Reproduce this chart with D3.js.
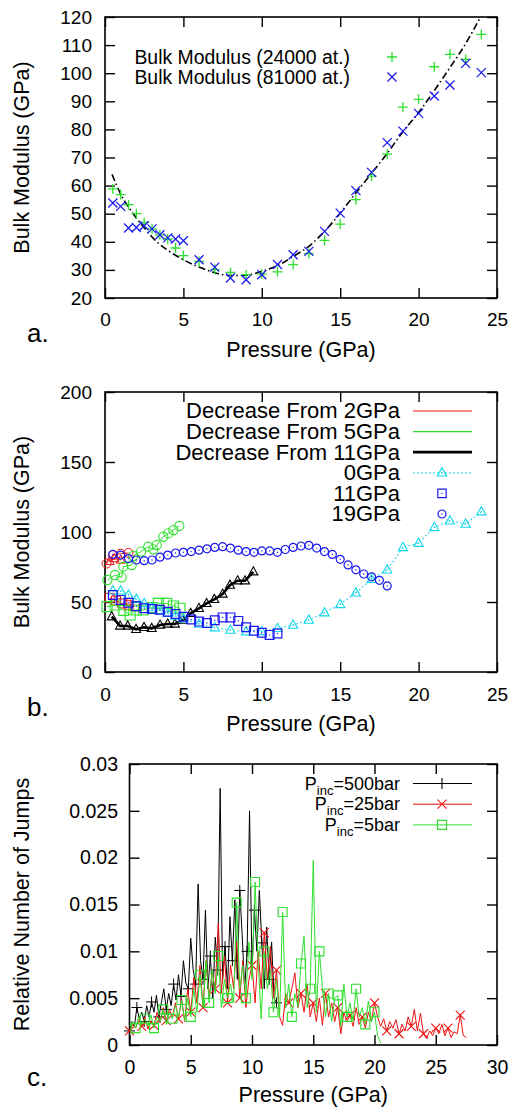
<!DOCTYPE html>
<html>
<head>
<meta charset="utf-8">
<script src="https://cdn.jsdelivr.net/npm/d3@7"></script>
<style>
body { margin: 0; background: #fff; }
svg { display: block; }
</style>
</head>
<body>
<svg id="chart" width="513" height="1108"></svg>
<script>
// ---------- panel a: bulk modulus vs pressure ----------
const pressA = [0.5,1,1.5,2,2.5,3,3.5,4,4.5,5,6,7,8,9,10,11,12,13,14,15,16,17,18,19,20,21,22,23,24];
const bulk24000 = [58.8,56.8,53.2,50,46.9,44.6,42.5,41,37.8,35.1,33,30.1,29.1,28.3,28.5,29.3,31.9,35.8,40.5,46.3,55,63.4,71.2,87.9,90.7,102.3,106.7,104.9,113.8];
const bulk81000 = [53.8,52.6,44.9,45.1,45.7,44.6,42.5,41.4,41,40.4,33.6,31,27.1,26.5,28.3,31.9,35.4,36.6,43.7,50.2,58.2,64.7,75.3,79.4,85.7,91.9,95.8,103.5,100.2];
const fitP = [0.45,0.75,1,1.8,2.5,3.3,4,5,6,7,8,9,10,11,12,13,14,15,16,17,18,19,20,21,22,23,23.9];
const fitB = [64,60,57,50,45,40,37,33.6,31,29,28,28.1,29.5,31.5,34.8,38.4,43.7,50.2,57.4,64.4,71.5,79.2,86,93.8,102,110.5,119.5];

// ---------- panel b: compression / decompression runs ----------
const press0 = [0.5,1,1.5,2,2.5,3,3.5,4,4.5,5,6,7,8,9,10,11,12,13,14,15,16,17,18,19,20,21,22,23,24];
const bulk0 = [58,58,55,52,49,46,44,42,40,38,34.3,31.7,30,28.8,29,31.2,33.6,37.1,42.4,48.3,56.6,66.2,73,89,92,103.3,108,105.7,114.5];
const press11 = [0.5,1,1.5,2,2.5,3,3.5,4,4.5,5,5.5,6,6.5,7,7.5,8,8.5,9,9.5,10,10.5,11];
const bulk11 = [55,51.5,49.5,47,45.5,45,44.5,43,41.5,39.5,37.5,36,35,37,39,39,36.5,32,29.5,28,26.5,27.5];
const press19 = [0.5,1,1.5,2,2.5,3,3.5,4,4.5,5,5.5,6,6.5,7,7.5,8,8.5,9,9.5,10,10.5,11,11.5,12,12.5,13,13.5,14,14.5,15,15.5,16,16.5,17,17.5,18];
const bulk19 = [84,83.5,81,80,79.5,80,82,83.5,85,85.5,86,87,88,89,89.5,88.5,87,86,85.5,86.5,86.5,85.5,87.5,89,90,90.5,88.5,86,84,80.5,76.5,73,70,68,65.5,61.5];
const dec2Circ = [[0.1,77.5],[0.5,83.5],[1.0,84.5],[1.5,85]];
const dec2Tri = [[0.3,79],[0.6,81],[1.0,80]];
const dec2Sq = [[0.3,53],[0.7,51],[1.1,49],[1.5,48],[1.9,47]];
const dec5Circ = [[0.15,65.7],[0.64,69.3],[1.06,67.6],[1.17,75.2],[1.7,76.4],[1.8,82.9],[2.3,86],[2.76,89.5],[3.08,87.6],[3.3,90.7],[3.72,96.6],[4.04,99],[4.36,101.4],[4.74,104.3]];
const dec5Sq = [[0.13,46.7],[0.64,47.9],[1.2,44],[1.6,40.7],[2.0,44.3],[2.44,44.3],[3.0,46],[3.4,49],[3.93,49],[4.36,47.1],[4.78,45.5]];
const dec11Tri = [[0.43,39.5],[0.96,32.9],[1.45,32.9],[1.98,30.5],[2.49,31.9],[2.98,31.2],[3.51,33.6],[4.0,34.3],[4.46,34.3],[4.95,37.1],[5.46,41.9],[5.99,45.5],[6.48,49],[6.97,51.9],[7.5,55.7],[7.97,62.1],[8.46,65.2],[8.93,65.2],[9.46,71.6]];

// ---------- panel c: relative number of jumps ----------
const jumps500 = [[0,0.0015],[0.2,0.0025],[0.4,0.0020],[0.6,0.0040],[0.8,0.0028],[1.0,0.0035],[1.2,0.0025],[1.4,0.0042],[1.6,0.0030],[1.8,0.0046],
  [2.0,0.0035],[2.2,0.0053],[2.4,0.0030],[2.6,0.0045],[2.8,0.0060],[3.0,0.0038],[3.2,0.0055],[3.4,0.0042],[3.6,0.0065],[3.8,0.0048],
  [4.0,0.0075],[4.2,0.0052],[4.4,0.0090],[4.6,0.0066],[4.8,0.0060],[5.0,0.0114],[5.2,0.0080],[5.4,0.0065],[5.6,0.0172],[5.8,0.0090],
  [6.0,0.0070],[6.2,0.0144],[6.4,0.0060],[6.6,0.0095],[6.8,0.0050],[7.0,0.0115],[7.2,0.0080],[7.4,0.0274],[7.6,0.0070],[7.8,0.0105],
  [8.0,0.0060],[8.2,0.0137],[8.4,0.0090],[8.6,0.0155],[8.8,0.0070],[9.0,0.0165],[9.2,0.0117],[9.4,0.0060],[9.6,0.0100],[9.8,0.0250],
  [10.0,0.0080],[10.2,0.0144],[10.4,0.0100],[10.6,0.0165],[10.8,0.0109],[11.0,0.0060],[11.2,0.0126],[11.4,0.0070],[11.6,0.0110],[11.8,0.0050],[12.0,0.0045]];
const jumps25 = [[0,0.0015],[0.25,0.0022],[0.5,0.0018],[0.75,0.0028],[1,0.0020],[1.25,0.0030],[1.5,0.0017],[1.75,0.0026],[2,0.0021],[2.25,0.0035],
  [2.5,0.0024],[2.75,0.0040],[3,0.0026],[3.25,0.0038],[3.5,0.0030],[3.75,0.0045],[4,0.0028],[4.25,0.0050],[4.5,0.0025],[4.75,0.0060],
  [5,0.0035],[5.25,0.0072],[5.5,0.0045],[5.75,0.0085],[6,0.0040],[6.25,0.0090],[6.5,0.0050],[6.75,0.0078],[7,0.0060],[7.25,0.0130],
  [7.5,0.0055],[7.75,0.0095],[8,0.0045],[8.25,0.0085],[8.5,0.0060],[8.75,0.0110],[9,0.0050],[9.25,0.0090],[9.5,0.0040],[9.75,0.0070],
  [10,0.0085],[10.25,0.0045],[10.5,0.0100],[10.75,0.0060],[11,0.0120],[11.25,0.0070],[11.5,0.0105],[11.75,0.0050],[12,0.0080],[12.25,0.0030],
  [12.5,0.0021],[12.75,0.0055],[13,0.0045],[13.25,0.0060],[13.5,0.0077],[13.75,0.0040],[14,0.0055],[14.25,0.0035],[14.5,0.0065],[14.75,0.0030],
  [15,0.0045],[15.25,0.0025],[15.5,0.0050],[15.75,0.0021],[16,0.0055],[16.25,0.0030],[16.5,0.0045],[16.75,0.0025],[17,0.0040],[17.25,0.0012],
  [17.5,0.0035],[17.75,0.0025],[18,0.0032],[18.25,0.0020],[18.5,0.0040],[18.75,0.0022],[19,0.0030],[19.25,0.0018],[19.5,0.0035],[19.75,0.0025],
  [20,0.0045],[20.25,0.0030],[20.5,0.0020],[20.75,0.0028],[21,0.0015],[21.25,0.0025],[21.5,0.0018],[21.75,0.0027],[22,0.0012],[22.25,0.0022],
  [22.5,0.0015],[22.75,0.0030],[23,0.0020],[23.25,0.0038],[23.5,0.0015],[23.75,0.0034],[24,0.0012],[24.25,0.0007],[24.5,0.0015],[24.75,0.0010],
  [25,0.0018],[25.25,0.0012],[25.5,0.0022],[25.75,0.0010],[26,0.0018],[26.25,0.0008],[26.5,0.0014],[26.75,0.0012],[27,0.0032],[27.25,0.0010],[27.5,0.0008]];
const jumps5 = [[0,0.0020],[0.25,0.0025],[0.5,0.0018],[0.75,0.0030],[1,0.0022],[1.25,0.0028],[1.5,0.0020],[1.75,0.0032],[2,0.0018],[2.25,0.0030],
  [2.5,0.0025],[2.75,0.0038],[3,0.0022],[3.25,0.0035],[3.5,0.0028],[3.75,0.0042],[4,0.0030],[4.25,0.0048],[4.5,0.0026],[4.75,0.0050],
  [5,0.0030],[5.25,0.0060],[5.5,0.0035],[5.75,0.0075],[6,0.0040],[6.25,0.0090],[6.5,0.0045],[6.75,0.0080],[7,0.0055],[7.25,0.0095],
  [7.5,0.0040],[7.75,0.0070],[8,0.0050],[8.25,0.0065],[8.5,0.0045],[8.75,0.0152],[9,0.0060],[9.25,0.0085],[9.5,0.0050],[9.75,0.0110],
  [10,0.0070],[10.25,0.0174],[10.5,0.0090],[10.75,0.0028],[11,0.0100],[11.25,0.0060],[11.5,0.0080],[11.75,0.0035],[12,0.0070],[12.25,0.0030],
  [12.5,0.0142],[12.75,0.0040],[13,0.0065],[13.25,0.0030],[13.5,0.0055],[13.75,0.0041],[14,0.0087],[14.25,0.0116],[14.5,0.0040],[14.75,0.0060],
  [15,0.0197],[15.25,0.0035],[15.5,0.0100],[15.75,0.0060],[16,0.0030],[16.25,0.0055],[16.5,0.0025],[16.75,0.0050],[17,0.0053],[17.25,0.0020],
  [17.5,0.0065],[17.75,0.0030],[18,0.0045],[18.25,0.0025],[18.5,0.0060],[18.75,0.0030],[19,0.0040],[19.25,0.0022],[19.5,0.0047],[19.75,0.0025],
  [20,0.0035],[20.25,0.0010],[20.5,0.0002]];

const ticks5to25 = [0,5,10,15,20,25];
const ticks5to30 = [0,5,10,15,20,25,30];
const ticksBulkA = [20,30,40,50,60,70,80,90,100,110,120];
const ticksBulkB = [0,50,100,150,200];
const ticksJumps = [0,0.005,0.01,0.015,0.02,0.025,0.03];

const FONT = '"Liberation Sans", Arial, Helvetica, sans-serif';
const GREEN = '#2ee02e', BLUE = '#1a1aee', RED = '#ee1111', CYAN = '#11d6ea';

const svg = d3.select('#chart').attr('font-family', FONT);

// marker paths centred on 0,0
function marker(type, s) {
    if (type === 'plus') return `M${-s},0H${s}M0,${-s}V${s}`;
    if (type === 'cross') return `M${-s},${-s}L${s},${s}M${-s},${s}L${s},${-s}`;
    if (type === 'square') return `M${-s},${-s}H${s}V${s}H${-s}Z`;
    if (type === 'tri') return `M0,${-s * 1.1}L${s},${s * 0.7}L${-s},${s * 0.7}Z`;
    if (type === 'circle') return d3.arc()({innerRadius: 0, outerRadius: s, startAngle: 0, endAngle: 2 * Math.PI});
}

function drawMarkers(g, pts, x, y, type, s, color, width, dot) {
    g.selectAll(null).data(pts).join('path')
        .attr('transform', d => `translate(${x(d[0])},${y(d[1])})`)
        .attr('d', marker(type, s))
        .attr('fill', 'none')
        .attr('stroke', color)
        .attr('stroke-width', width);
    if (dot) {
        g.selectAll(null).data(pts).join('circle')
            .attr('cx', d => x(d[0])).attr('cy', d => y(d[1]))
            .attr('r', 0.7).attr('fill', color);
    }
}

function drawLine(g, pts, x, y, color, width, dash, curve) {
    g.append('path')
        .datum(pts)
        .attr('d', d3.line().x(d => x(d[0])).y(d => y(d[1])).curve(curve || d3.curveLinear))
        .attr('fill', 'none')
        .attr('stroke', color)
        .attr('stroke-width', width)
        .attr('stroke-dasharray', dash || null);
}

function frame(x, y, o) {
    const [x0, x1] = x.range(), [y0, y1] = y.range();
    const g = svg.append('g');
    g.append('g').attr('transform', `translate(0,${y0})`)
        .call(d3.axisBottom(x).tickValues(o.xTicks).tickSize(-10).tickPadding(o.xPad).tickFormat(d3.format('d')));
    g.append('g').attr('transform', `translate(0,${y1})`)
        .call(d3.axisTop(x).tickValues(o.xTicks).tickSize(-10).tickFormat(''));
    g.append('g').attr('transform', `translate(${x0},0)`)
        .call(d3.axisLeft(y).tickValues(o.yTicks).tickSize(-10).tickPadding(o.yPad).tickFormat(o.yFmt));
    g.append('g').attr('transform', `translate(${x1},0)`)
        .call(d3.axisRight(y).tickValues(o.yTicks).tickSize(-10).tickFormat(''));
    g.selectAll('.domain').remove();
    g.selectAll('.tick line').attr('stroke', '#000').attr('stroke-width', 1.4);
    g.selectAll('.tick text').attr('fill', '#000').attr('font-size', o.tickFont).attr('font-family', FONT);
    g.append('rect')
        .attr('x', x0).attr('y', y1).attr('width', x1 - x0).attr('height', y0 - y1)
        .attr('fill', 'none').attr('stroke', '#000').attr('stroke-width', 1.6);
    // axis titles and panel letter
    svg.append('text').attr('x', (x0 + x1) / 2).attr('y', o.xTitleY)
        .attr('text-anchor', 'middle').attr('font-size', 21.5).text('Pressure (GPa)');
    svg.append('text').attr('transform', `translate(28.5,${(y0 + y1) / 2}) rotate(-90)`)
        .attr('text-anchor', 'middle').attr('font-size', 21.5).text(o.yTitle);
    svg.append('text').attr('x', 27).attr('y', o.letterY)
        .attr('font-size', 26).text(o.letter);
}

// ================= panel a =================
const xA = d3.scaleLinear([0, 25], [105, 497]);
const yA = d3.scaleLinear([20, 120], [298, 17]);
frame(xA, yA, {xTicks: ticks5to25, yTicks: ticksBulkA, xPad: 15, yPad: 13, tickFont: 19,
    yFmt: d3.format('d'), xTitleY: 357, yTitle: 'Bulk Modulus (GPa)', letter: 'a.', letterY: 342});
const gA = svg.append('g');
drawLine(gA, d3.zip(fitP, fitB), xA, yA, '#000', 1.6, '7,3,1.5,3', d3.curveMonotoneX);
drawMarkers(gA, d3.zip(pressA, bulk24000), xA, yA, 'plus', 5, GREEN, 1.3);
drawMarkers(gA, d3.zip(pressA, bulk81000), xA, yA, 'cross', 4.5, BLUE, 1.3);
const legA = [['Bulk Modulus (24000 at.)', 'plus', GREEN], ['Bulk Modulus (81000 at.)', 'cross', BLUE]];
legA.forEach((d, i) => {
    const cy = 57 + i * 20;
    gA.append('text').attr('x', 350).attr('y', cy + 6.5).attr('text-anchor', 'end')
        .attr('font-size', 19.4).text(d[0]);
    gA.append('path').attr('transform', `translate(392,${cy})`).attr('d', marker(d[1], d[1] === 'plus' ? 5 : 4.5))
        .attr('fill', 'none').attr('stroke', d[2]).attr('stroke-width', 1.3);
});

// ================= panel b =================
const xB = d3.scaleLinear([0, 25], [105, 497]);
const yB = d3.scaleLinear([0, 200], [672, 392]);
frame(xB, yB, {xTicks: ticks5to25, yTicks: ticksBulkB, xPad: 16, yPad: 13, tickFont: 19,
    yFmt: d3.format('d'), xTitleY: 731, yTitle: 'Bulk Modulus (GPa)', letter: 'b.', letterY: 716});
const gB = svg.append('g');
// decreasing pressure runs
drawLine(gB, dec2Circ, xB, yB, RED, 1);
drawLine(gB, dec2Tri, xB, yB, RED, 1);
drawLine(gB, dec2Sq, xB, yB, RED, 1);
drawMarkers(gB, dec2Circ, xB, yB, 'circle', 4.5, RED, 1);
drawMarkers(gB, dec2Tri, xB, yB, 'tri', 4.5, RED, 1);
drawMarkers(gB, dec2Sq, xB, yB, 'square', 4.5, RED, 1);
drawLine(gB, dec5Circ, xB, yB, GREEN, 1);
drawLine(gB, dec5Sq, xB, yB, GREEN, 1);
drawMarkers(gB, dec5Circ, xB, yB, 'circle', 4.6, GREEN, 1.1);
drawMarkers(gB, dec5Sq, xB, yB, 'square', 5, GREEN, 1.1);
drawLine(gB, dec11Tri, xB, yB, '#000', 2.6);
drawMarkers(gB, dec11Tri, xB, yB, 'tri', 4.5, '#000', 1.1);
// increasing pressure runs
drawLine(gB, d3.zip(press0, bulk0), xB, yB, CYAN, 1.2, '1.5,2.5');
drawMarkers(gB, d3.zip(press0, bulk0), xB, yB, 'tri', 4.6, CYAN, 1.1, true);
drawMarkers(gB, d3.zip(press11, bulk11), xB, yB, 'square', 4.4, BLUE, 1.2, true);
drawMarkers(gB, d3.zip(press19, bulk19), xB, yB, 'circle', 4, BLUE, 1.2, true);

const legB = ['Decrease From 2GPa', 'Decrease From 5GPa', 'Decrease From 11GPa', '0GPa', '11GPa', '19GPa'];
legB.forEach((label, i) => {
    const cy = 411 + i * 20.6;
    gB.append('text').attr('x', 400).attr('y', cy + 7.4).attr('text-anchor', 'end')
        .attr('font-size', 22).text(label);
});
const legBx = [413, 472];
[[RED, 1], [GREEN, 1.2], ['#000', 2.8]].forEach((d, i) => {
    const cy = 411 + i * 20.6;
    gB.append('line').attr('x1', legBx[0]).attr('x2', legBx[1]).attr('y1', cy).attr('y2', cy)
        .attr('stroke', d[0]).attr('stroke-width', d[1]);
});
gB.append('line').attr('x1', legBx[0]).attr('x2', legBx[1]).attr('y1', 472.8).attr('y2', 472.8)
    .attr('stroke', CYAN).attr('stroke-width', 1.2).attr('stroke-dasharray', '1.5,2.5');
[['tri', CYAN, 472.8, 4.6], ['square', BLUE, 493.4, 4.2], ['circle', BLUE, 514, 4]].forEach(d => {
    gB.append('path').attr('transform', `translate(442,${d[2]})`).attr('d', marker(d[0], d[3]))
        .attr('fill', 'none').attr('stroke', d[1]).attr('stroke-width', 1.2);
    gB.append('circle').attr('cx', 442).attr('cy', d[2]).attr('r', 0.7).attr('fill', d[1]);
});

// ================= panel c =================
const xC = d3.scaleLinear([0, 30], [129.5, 497]);
const yC = d3.scaleLinear([0, 0.03], [1045, 764]);
frame(xC, yC, {xTicks: ticks5to30, yTicks: ticksJumps, xPad: 15, yPad: 11.5, tickFont: 19.5,
    yFmt: d => d === 0 ? '0' : String(+d.toFixed(3)), xTitleY: 1102,
    yTitle: 'Relative Number of Jumps', letter: 'c.', letterY: 1086});
const gC = svg.append('g');
drawLine(gC, jumps500, xC, yC, '#000', 1);
drawMarkers(gC, jumps500.filter((d, i) => i % 3 === 0), xC, yC, 'plus', 5.5, '#000', 1);
drawLine(gC, jumps25, xC, yC, RED, 1);
drawMarkers(gC, jumps25.filter((d, i) => i % 4 === 0), xC, yC, 'cross', 4.5, RED, 1.1);
drawLine(gC, jumps5, xC, yC, GREEN, 1);
drawMarkers(gC, jumps5.filter((d, i) => i % 3 === 2), xC, yC, 'square', 4.5, GREEN, 1.1);

const legC = [['500bar', '#000', 'plus', 5.5], ['25bar', RED, 'cross', 4.5], ['5bar', GREEN, 'square', 4.5]];
legC.forEach((d, i) => {
    const cy = 783.5 + i * 20.7;
    const t = gC.append('text').attr('x', 400).attr('y', cy + 6).attr('text-anchor', 'end').attr('font-size', 18);
    t.append('tspan').text('P');
    t.append('tspan').attr('font-size', 13).attr('dy', 5).text('inc');
    t.append('tspan').attr('dy', -5).text('=' + d[0]);
    gC.append('line').attr('x1', 413).attr('x2', 472).attr('y1', cy).attr('y2', cy)
        .attr('stroke', d[1]).attr('stroke-width', 1);
    gC.append('path').attr('transform', `translate(442,${cy})`).attr('d', marker(d[2], d[3]))
        .attr('fill', 'none').attr('stroke', d[1]).attr('stroke-width', 1.1);
});
</script>
</body>
</html>
